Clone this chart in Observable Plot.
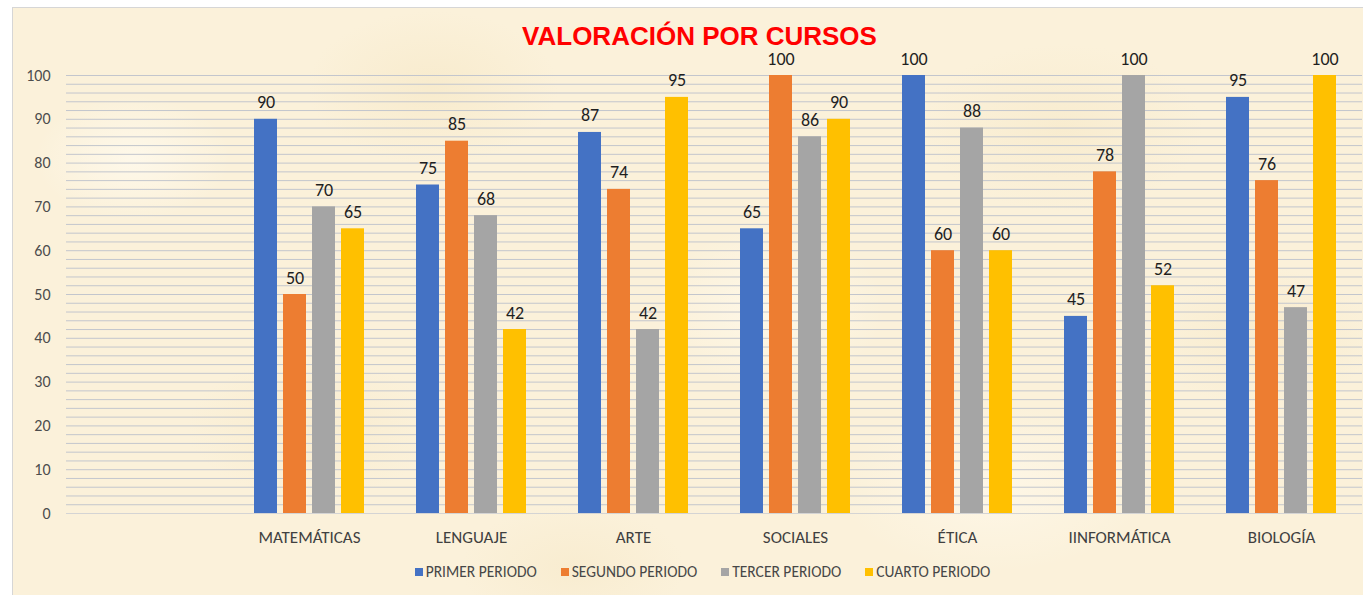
<!DOCTYPE html>
<html>
<head>
<meta charset="utf-8">
<script src="https://cdn.jsdelivr.net/npm/d3@7"></script>
<script src="https://cdn.jsdelivr.net/npm/@observablehq/plot@0.6"></script>
<style>
  html, body { margin: 0; padding: 0; background: #ffffff; }
  #wrap { position: relative; width: 1363px; height: 595px; overflow: hidden; }
  #frame {
    position: absolute; left: 12px; top: 7px; width: 1360px; height: 600px;
    border-left: 1px solid #d6d6d6; border-top: 1px solid #d6d6d6;
    background-color: #fbf1da;
    background-image:
      radial-gradient(ellipse 140px 90px at 120px 150px, rgba(255,250,238,0.8), rgba(255,250,238,0) 70%),
      radial-gradient(ellipse 180px 110px at 420px 80px, rgba(244,228,190,0.45), rgba(244,228,190,0) 70%),
      radial-gradient(ellipse 160px 120px at 760px 300px, rgba(255,250,238,0.7), rgba(255,250,238,0) 70%),
      radial-gradient(ellipse 200px 120px at 1050px 120px, rgba(245,230,195,0.45), rgba(245,230,195,0) 70%),
      radial-gradient(ellipse 180px 100px at 300px 420px, rgba(245,229,192,0.4), rgba(245,229,192,0) 70%),
      radial-gradient(ellipse 220px 120px at 980px 480px, rgba(255,249,236,0.7), rgba(255,249,236,0) 70%),
      radial-gradient(ellipse 160px 100px at 1250px 330px, rgba(244,228,190,0.4), rgba(244,228,190,0) 70%),
      radial-gradient(ellipse 160px 90px at 560px 560px, rgba(244,229,193,0.4), rgba(244,229,193,0) 70%);
  }
  #chart { position: absolute; left: 0; top: 0; }
  #chart svg { background: transparent !important; overflow: visible; }
  #title {
    position: absolute; left: 0; width: 1399px; top: 27px; text-align: center;
    font-family: "Liberation Sans", Arial, sans-serif; font-weight: bold; font-size: 26px;
    line-height: 18px; height: 18px; color: #ff0000; white-space: nowrap;
  }
  #legend {
    position: absolute; left: 0; width: 1405px; top: 563px; display: flex; justify-content: center;
    font-family: Carlito, Calibri, Lato, sans-serif; font-size: 15.5px; line-height: 18px; color: #474747;
  }
  #legend .item { display: flex; align-items: center; margin: 0 12px; white-space: nowrap; }
  #legend .sw { width: 8px; height: 8px; margin-right: 3px; margin-top: -1px; }
  [aria-label="y-axis tick label"] { font-size: 16px; fill: #4d4d4d; }
  [aria-label="fx-axis tick label"] { font-size: 17px; fill: #404040; }
</style>
</head>
<body>
<div id="wrap">
  <div id="frame"></div>
  <div id="chart"></div>
  <div id="title">VALORACIÓN POR CURSOS</div>
  <div id="legend"></div>
</div>
<script>
// ---- data ----
const categorias = ["", "MATEMÁTICAS", "LENGUAJE", "ARTE", "SOCIALES", "ÉTICA", "IINFORMÁTICA", "BIOLOGÍA"];
const periodos = ["PRIMER PERIODO", "SEGUNDO PERIODO", "TERCER PERIODO", "CUARTO PERIODO"];
const primerPeriodo  = [null, 90, 75, 87, 65, 100, 45, 95];
const segundoPeriodo = [null, 50, 85, 74, 100, 60, 78, 76];
const tercerPeriodo  = [null, 70, 68, 42, 86, 88, 100, 47];
const cuartoPeriodo  = [null, 65, 42, 95, 90, 60, 52, 100];
const yTicks = [0, 10, 20, 30, 40, 50, 60, 70, 80, 90, 100];
const colores = ["#4472C4", "#ED7D31", "#A5A5A5", "#FFC000"];

const series = [primerPeriodo, segundoPeriodo, tercerPeriodo, cuartoPeriodo];
const tabla = [];
categorias.forEach((c, i) => {
  series.forEach((s, j) => {
    tabla.push({curso: c, periodo: periodos[j], valor: s[i]});
  });
});
const gridValues = d3.range(0, 101, 2);

const plot = Plot.plot({
  width: 1363,
  height: 595,
  marginLeft: 66,
  marginRight: 1,
  marginTop: 75,
  marginBottom: 82,
  style: {fontFamily: "Carlito, Calibri, Lato, sans-serif", background: "transparent", overflow: "visible"},
  fx: {domain: categorias, padding: 0, label: null, axis: "bottom", tickSize: 0, tickPadding: 17},
  x: {domain: periodos, axis: null, paddingInner: 0.22, paddingOuter: 0.856},
  y: {domain: [0, 100], ticks: yTicks, tickSize: 0, tickPadding: 16, label: null},
  color: {domain: periodos, range: colores},
  marks: [
    Plot.ruleY(gridValues, {stroke: d => d === 0 ? "#d4d4d4" : "#c3c6cd", strokeWidth: 1}),
    Plot.barY(tabla, {fx: "curso", x: "periodo", y: "valor", fill: "periodo"}),
    Plot.text(tabla, {fx: "curso", x: "periodo", y: "valor",
      text: d => d.valor == null ? null : String(d.valor),
      lineAnchor: "bottom", dy: -11, fontSize: 18, fill: "#1f1f1f"})
  ]
});
document.getElementById("chart").appendChild(plot);

// legend
const lg = document.getElementById("legend");
periodos.forEach((p, i) => {
  const it = document.createElement("div");
  it.className = "item";
  const sw = document.createElement("div");
  sw.className = "sw";
  sw.style.background = colores[i];
  const t = document.createElement("span");
  t.textContent = p;
  it.appendChild(sw); it.appendChild(t);
  lg.appendChild(it);
});
</script>
</body>
</html>
